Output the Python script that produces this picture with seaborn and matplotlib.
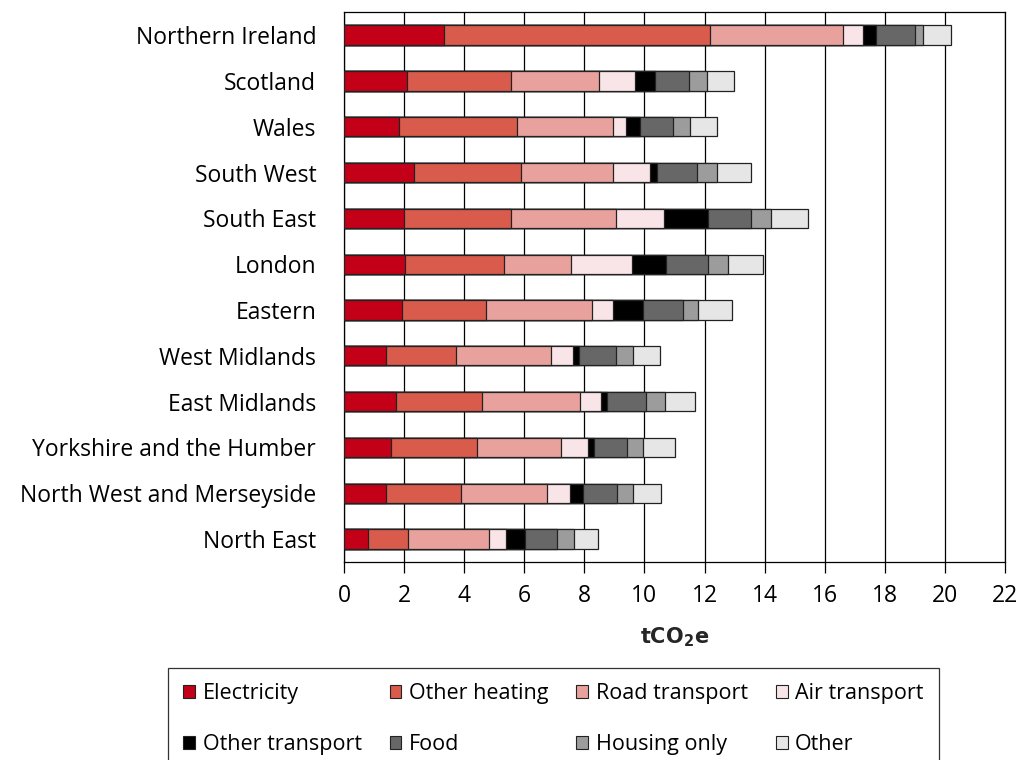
import pandas as pd
import numpy as np
import matplotlib.pyplot as plt
import seaborn as sns
from matplotlib.patches import Patch

regions = ['Northern Ireland', 'Scotland', 'Wales', 'South West', 'South East', 'London',
           'Eastern', 'West Midlands', 'East Midlands', 'Yorkshire and the Humber',
           'North West and Merseyside', 'North East']

# tCO2e per household
electricity = [3.32, 2.11, 1.84, 2.33, 1.99, 2.02, 1.92, 1.39, 1.73, 1.57, 1.39, 0.79]
other_heating = [8.85, 3.45, 3.91, 3.57, 3.57, 3.32, 2.82, 2.34, 2.86, 2.86, 2.52, 1.33]
road_transport = [4.43, 2.94, 3.19, 3.04, 3.49, 2.22, 3.50, 3.15, 3.27, 2.80, 2.85, 2.72]
air_transport = [0.66, 1.18, 0.44, 1.23, 1.61, 2.01, 0.71, 0.73, 0.68, 0.89, 0.77, 0.56]
other_transport = [0.45, 0.66, 0.47, 0.25, 1.44, 1.15, 1.01, 0.20, 0.22, 0.19, 0.41, 0.64]
food = [1.31, 1.13, 1.11, 1.34, 1.43, 1.39, 1.32, 1.23, 1.28, 1.10, 1.14, 1.05]
housing_only = [0.26, 0.60, 0.57, 0.66, 0.67, 0.66, 0.51, 0.57, 0.64, 0.55, 0.53, 0.56]
other = [0.92, 0.92, 0.90, 1.11, 1.25, 1.17, 1.14, 0.91, 1.01, 1.06, 0.95, 0.81]

categories = ['Electricity', 'Other heating', 'Road transport', 'Air transport',
              'Other transport', 'Food', 'Housing only', 'Other']
colors = ['#C40018', '#D95B4C', '#E8A19C', '#F9E5E8', '#000000', '#676767', '#9C9C9C', '#E6E6E6']

df = pd.DataFrame({'region': regions,
                   'Electricity': electricity, 'Other heating': other_heating,
                   'Road transport': road_transport, 'Air transport': air_transport,
                   'Other transport': other_transport, 'Food': food,
                   'Housing only': housing_only, 'Other': other})

# cumulative sums -> draw the longest first so shorter ones sit on top
cum = df[categories].cumsum(axis=1)
cum['region'] = df['region']

sns.set_style('white')
plt.rcParams['font.family'] = ['Open Sans', 'DejaVu Sans']
plt.rcParams['text.color'] = 'black'
plt.rcParams['xtick.color'] = 'black'
plt.rcParams['ytick.color'] = 'black'

fig = plt.figure(figsize=(10.25, 7.6), dpi=100)
ax = fig.add_axes([0.3356, 0.2605, 0.6449, 0.7235])

for cat, col in reversed(list(zip(categories, colors))):
    sns.barplot(data=cum, x=cat, y='region', order=regions, color=col, orient='h',
                saturation=1, width=0.42, edgecolor='#222222', linewidth=0.9, ax=ax, zorder=3)

ax.set_xlim(0, 22)
ax.set_ylim(11.5, -0.5)
ax.set_xticks(np.arange(0, 23, 2))
ax.xaxis.grid(True, color='black', linewidth=0.9, zorder=0)
ax.set_axisbelow(True)
for s in ax.spines.values():
    s.set_visible(True)
    s.set_color('black')
    s.set_linewidth(0.9)

ax.tick_params(axis='x', direction='out', length=8, width=0.9, color='black',
               labelsize=16.5, pad=8, bottom=True)
ax.tick_params(axis='y', length=0, labelsize=16.5, pad=20)
ax.set_ylabel('')
ax.set_xlabel(r'$\mathbf{tCO_2e}$', fontsize=15, labelpad=12)

# legend filled row by row like the original
handles = [Patch(facecolor=c, edgecolor='#222222', linewidth=0.8, label=l)
           for l, c in zip(categories, colors)]
order = [0, 4, 1, 5, 2, 6, 3, 7]
leg = fig.legend(handles=[handles[i] for i in order], loc='upper left',
                 bbox_to_anchor=(0.164, 0.121), borderaxespad=0, ncol=4, fontsize=15.5,
                 frameon=True, fancybox=False, edgecolor='black', handlelength=0.55,
                 handleheight=0.55, handletextpad=0.35, columnspacing=1.3,
                 labelspacing=1.4, borderpad=0.7)
leg.get_frame().set_linewidth(0.9)

fig.savefig('out.png', dpi=100)
